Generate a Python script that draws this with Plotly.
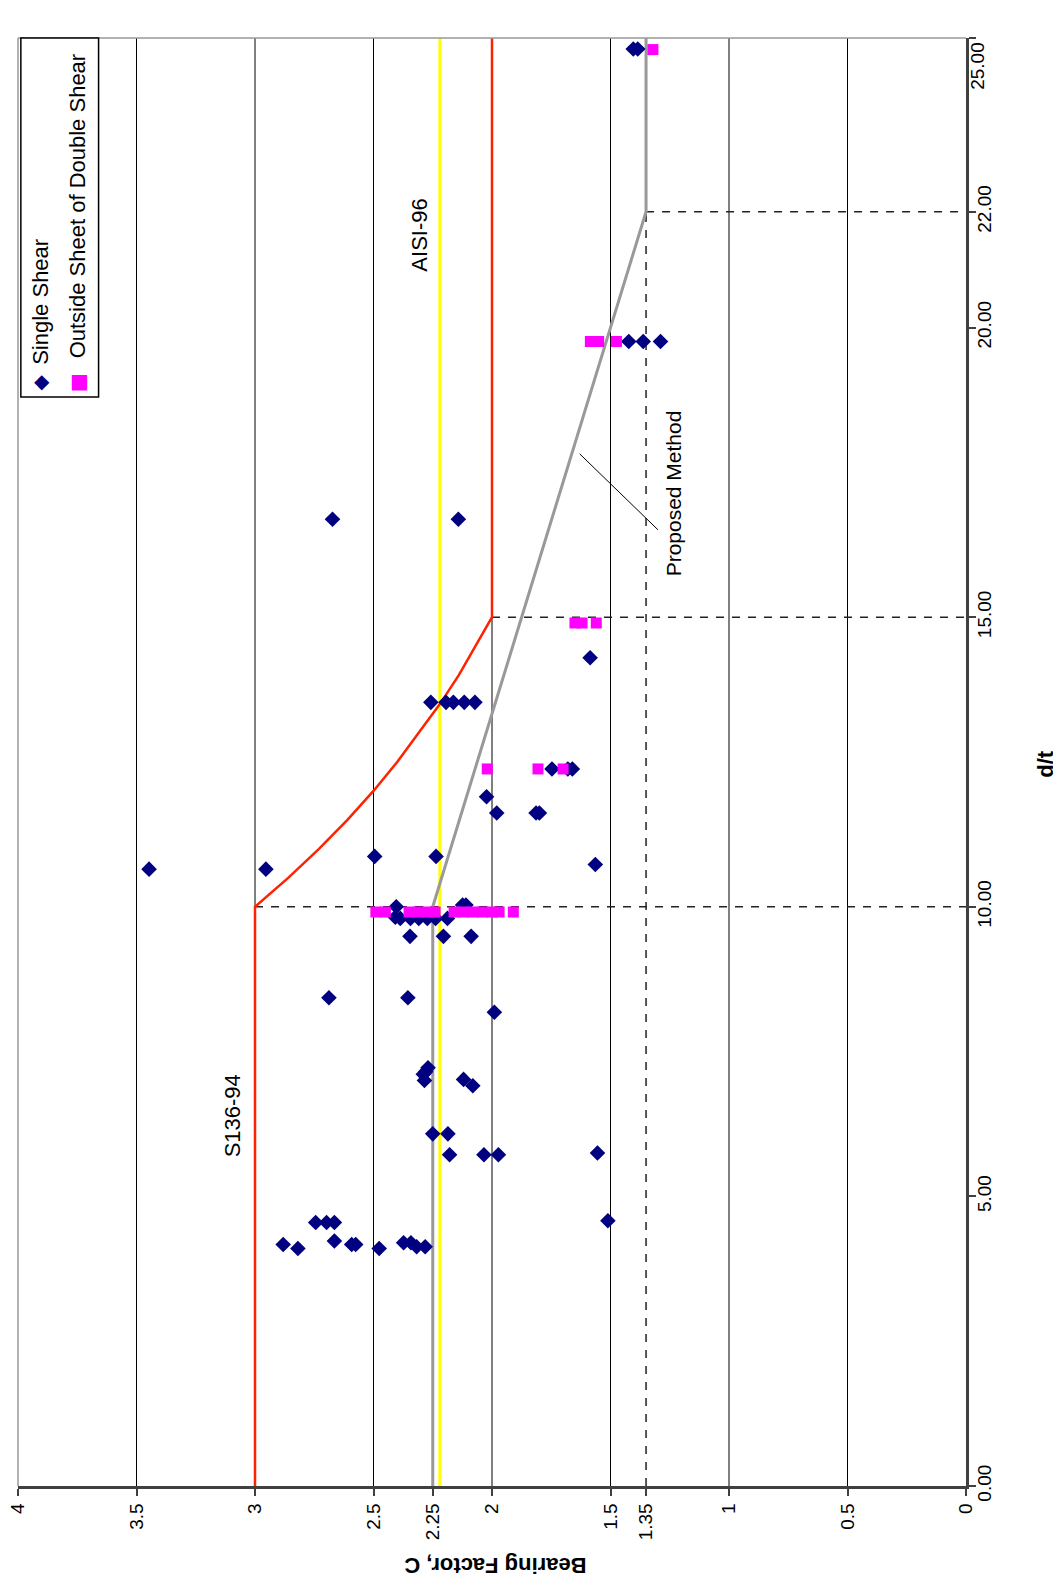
import plotly.graph_objects as go

# ---------------- data (C = bearing factor, dt = d/t) ----------------
single_c = [2.881, 2.819, 2.744, 2.698, 2.665, 2.665, 2.592, 2.575, 2.476, 2.373, 2.342, 2.318, 2.282, 1.511,
            2.250, 2.186, 2.179, 2.034, 1.973, 1.555,
            2.270, 2.280, 2.290, 2.285, 2.120, 2.081,
            2.688, 2.355, 1.990,
            2.346, 2.205, 2.088,
            2.404, 2.408, 2.387, 2.344, 2.309, 2.273, 2.238, 2.188, 2.124, 2.110,
            3.447, 2.954, 2.495, 2.236, 1.564,
            2.023, 1.980, 1.814, 1.800,
            1.747, 1.680, 1.661,
            2.258, 2.194, 2.163, 2.117, 2.072,
            1.586,
            2.673, 2.142,
            1.423, 1.362, 1.289,
            1.404, 1.385]
single_dt = [4.17, 4.10, 4.55, 4.55, 4.55, 4.23, 4.17, 4.17, 4.10, 4.20, 4.20, 4.13, 4.13, 4.58,
             6.08, 6.08, 5.72, 5.72, 5.72, 5.75,
             7.22, 7.15, 7.11, 7.00, 7.02, 6.91,
             8.43, 8.43, 8.18,
             9.49, 9.49, 9.49,
             10.00, 9.82, 9.80, 9.80, 9.80, 9.80, 9.80, 9.80, 10.03, 10.03,
             10.65, 10.65, 10.87, 10.87, 10.73,
             11.90, 11.62, 11.62, 11.62,
             12.38, 12.38, 12.38,
             13.53, 13.53, 13.53, 13.53, 13.53,
             14.30,
             16.69, 16.69,
             19.76, 19.76, 19.76,
             24.81, 24.81]

double_c = [2.49, 2.45, 2.35, 2.31, 2.27, 2.24, 2.16, 2.12, 2.08, 2.04, 2.00, 1.97, 1.91,
            2.02, 1.806, 1.70,
            1.65, 1.62, 1.56,
            1.585, 1.55, 1.475,
            1.321]
double_dt = [9.91, 9.91, 9.91, 9.91, 9.91, 9.91, 9.91, 9.91, 9.91, 9.91, 9.91, 9.91, 9.91,
             12.38, 12.38, 12.38,
             14.90, 14.90, 14.90,
             19.76, 19.76, 19.76,
             24.80]

# S136-94 design curve
s136_dt = [0, 10, 10.5, 11, 11.5, 12, 12.5, 13, 13.5, 14, 14.5, 15, 25]
s136_c = [3.0, 3.0, 2.86, 2.73, 2.61, 2.50, 2.40, 2.31, 2.22, 2.14, 2.07, 2.0, 2.0]

# AISI-96
aisi_dt = [0, 25]
aisi_c = [2.22, 2.22]

# Proposed method
prop_dt = [0, 10, 22, 25]
prop_c = [2.25, 2.25, 1.35, 1.35]

# dashed reference lines
ref_c = [3.0, 0.0, None, 2.0, 0.0, None, 1.35, 0.0, None, 1.35, 1.35]
ref_dt = [10, 10, None, 15, 15, None, 22, 22, None, 0, 22]

# axes
c_ticks = [4, 3.5, 3, 2.5, 2.25, 2, 1.5, 1.35, 1, 0.5, 0]
c_ticktext = ["4", "3.5", "3", "2.5", "2.25", "2", "1.5", "1.35", "1", "0.5", "0"]
c_grid = [3.5, 3, 2.5, 2, 1.5, 1, 0.5]
dt_ticks = [0, 5, 10, 15, 20, 22, 25]
dt_ticktext = ["0.00", "5.00", "10.00", "15.00", "20.00", "22.00", " "]
dt_top_label = "25.00"   # drawn just inside the top end, as in the original

FONT = "Liberation Sans, Arial, sans-serif"

fig = go.Figure()

for gx in c_grid:
    fig.add_shape(type="line", xref="x", yref="paper", x0=gx, x1=gx, y0=0, y1=1,
                  line=dict(color="black", width=1), layer="below")

fig.add_trace(go.Scatter(x=ref_c, y=ref_dt, mode="lines", showlegend=False,
                         line=dict(color="#222222", width=1.5, dash="8px,8px"), hoverinfo="skip"))
fig.add_trace(go.Scatter(x=aisi_c, y=aisi_dt, mode="lines", name="AISI-96", showlegend=False,
                         line=dict(color="#FFFF00", width=3)))
fig.add_trace(go.Scatter(x=prop_c, y=prop_dt, mode="lines", name="Proposed Method", showlegend=False,
                         line=dict(color="#999999", width=3)))
fig.add_trace(go.Scatter(x=s136_c, y=s136_dt, mode="lines", name="S136-94", showlegend=False,
                         line=dict(color="#FF2200", width=2.5)))
fig.add_trace(go.Scatter(x=single_c, y=single_dt, mode="markers", name="Single Shear", showlegend=False,
                         marker=dict(symbol="diamond", size=12, color="#000080", line=dict(width=0))))
fig.add_trace(go.Scatter(x=double_c, y=double_dt, mode="markers", name="Outside Sheet of Double Shear",
                         showlegend=False,
                         marker=dict(symbol="square", size=11, color="#FF00FF", line=dict(width=0))))

# plot frame (top / left)
fig.add_shape(type="line", xref="paper", yref="paper", x0=0, x1=1, y0=1, y1=1,
              line=dict(color="#999999", width=1.5))
fig.add_shape(type="line", xref="paper", yref="paper", x0=0, x1=0, y0=0, y1=1,
              line=dict(color="#999999", width=1.5))

# legend box
fig.add_shape(type="rect", xref="paper", yref="paper", x0=0.003, x1=0.085, y0=0.752, y1=1.0,
              line=dict(color="black", width=1.5), fillcolor="white")

legend_items = [
    dict(text="◆", x=0.0253, y=0.763, font=dict(size=20, color="#000080", family="DejaVu Sans")),
    dict(text="■", x=0.0651, y=0.763, font=dict(size=20, color="#FF00FF", family="DejaVu Sans")),
    dict(text="Single Shear", x=0.0235, y=0.818, textangle=-90,
         font=dict(size=22, color="black", family=FONT)),
    dict(text="Outside Sheet of Double Shear", x=0.0637, y=0.884, textangle=-90,
         font=dict(size=22, color="black", family=FONT)),
]
for a in legend_items:
    fig.add_annotation(xref="paper", yref="paper", showarrow=False, xanchor="center", yanchor="middle", **a)

# axis titles (the whole chart is turned by 90 degrees)
fig.add_annotation(xref="paper", yref="paper", x=0.504, y=-0.065, text="<b>Bearing Factor, C</b>",
                   textangle=180, showarrow=False, font=dict(size=22, color="black", family=FONT))
fig.add_annotation(xref="paper", yref="paper", x=1.099, y=0.499, text="<b>d/t</b>", textangle=-90,
                   showarrow=False, font=dict(size=22, color="black", family=FONT))
fig.add_annotation(xref="paper", yref="paper", x=1.0246, y=0.9986, text=dt_top_label, textangle=-90,
                   showarrow=False, font=dict(size=19, color="black", family=FONT))

# series labels
fig.add_annotation(x=3.095, y=6.39, text="S136-94", textangle=-90, showarrow=False,
                   font=dict(size=22, color="black", family=FONT))
fig.add_annotation(x=2.305, y=21.6, text="AISI-96", textangle=-90, showarrow=False,
                   font=dict(size=22, color="black", family=FONT))
fig.add_annotation(x=1.234, y=17.13, text="Proposed Method", textangle=-90, showarrow=False,
                   font=dict(size=21, color="black", family=FONT))
fig.add_shape(type="line", xref="x", yref="y", x0=1.63, y0=17.82, x1=1.30, y1=16.51,
              line=dict(color="black", width=1))

# sized so that the photographed page puts the plot area where the original has it
fig.update_layout(
    width=1057, height=1587,
    margin=dict(l=10, r=99, t=30, b=109),
    paper_bgcolor="white", plot_bgcolor="white",
    font=dict(family=FONT, size=19, color="black"),
    xaxis=dict(range=[4, 0], tickvals=c_ticks, ticktext=c_ticktext, tickangle=-90, automargin=False,
               ticklabeloverflow="allow",
               showgrid=False, zeroline=False, showline=True, linecolor="#404040", linewidth=2.5,
               ticks="outside", ticklen=7, tickcolor="#404040", tickwidth=1.5,
               tickfont=dict(size=19, family=FONT)),
    yaxis=dict(range=[0, 25], tickvals=dt_ticks, ticktext=dt_ticktext, tickangle=-90, side="right",
               automargin=False, ticklabeloverflow="allow", ticklabelstandoff=-8,
               showgrid=False, zeroline=False, showline=True, linecolor="#404040", linewidth=2.5,
               ticks="outside", ticklen=7, tickcolor="#404040", tickwidth=1.5,
               tickfont=dict(size=19, family=FONT)),
    showlegend=False,
)

fig.write_html("out.html")
